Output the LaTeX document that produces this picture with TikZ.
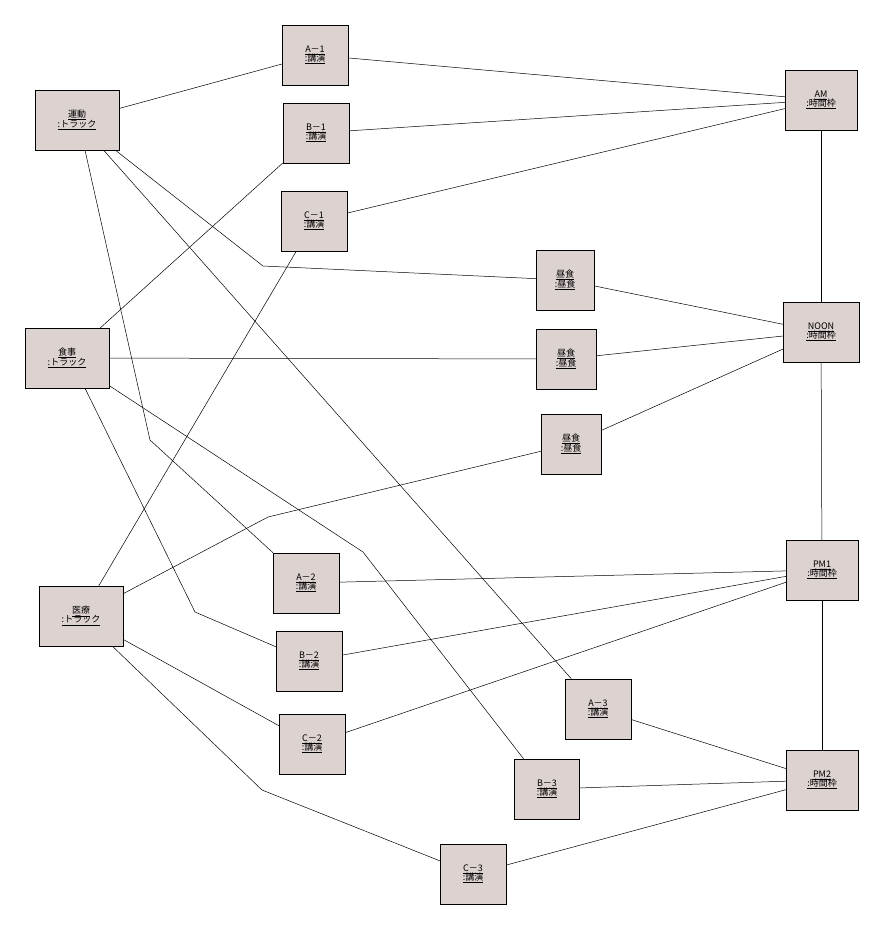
\documentclass[tikz,border=0pt]{standalone}
\usepackage{fontspec}
\setmainfont{Noto Sans CJK JP}
\begin{document}
\begin{tikzpicture}[x=1pt,y=-1pt,
 obj/.style={draw=black,fill={rgb,255:red,220;green,210;blue,208},minimum height=60pt,inner sep=0pt,align=center,font=\fontsize{9}{10}\selectfont},
 s/.style={obj,minimum width=66pt},
 m/.style={obj,minimum width=60pt},
 t/.style={obj,minimum width=72pt},
 w/.style={obj,minimum width=84pt},
 ln/.style={draw=black,line width=0.5pt}]
\useasboundingbox (0,0) rectangle (885,929);
\newcommand{\ul}[2]{\underline{#1}\\[-1pt]\underline{#2}}
\node[w] (und) at (77,120) {\ul{運動}{:トラック}};
\node[w] (sho) at (67,358) {\ul{食事}{:トラック}};
\node[w] (iry) at (81,616) {\ul{医療}{:トラック}};
\node[s] (a1) at (315,55) {\ul{A－1}{:講演}};
\node[s] (b1) at (316,133) {\ul{B－1}{:講演}};
\node[s] (c1) at (314,221) {\ul{C－1}{:講演}};
\node[obj,minimum width=58pt] (l1) at (565,280) {\ul{昼食}{:昼食}};
\node[m] (l2) at (566,359) {\ul{昼食}{:昼食}};
\node[m] (l3) at (571,444) {\ul{昼食}{:昼食}};
\node[s] (a2) at (306,583) {\ul{A－2}{:講演}};
\node[s] (b2) at (309,661) {\ul{B－2}{:講演}};
\node[s] (c2) at (312,744) {\ul{C－2}{:講演}};
\node[s] (a3) at (598,709) {\ul{A－3}{:講演}};
\node[obj,minimum width=65pt] (b3) at (547,789) {\ul{B－3}{:講演}};
\node[s] (c3) at (473,874) {\ul{C－3}{:講演}};
\node[t] (am) at (821,100) {\ul{AM}{:時間枠}};
\node[obj,minimum width=76pt] (noon) at (821,332) {\ul{NOON}{:時間枠}};
\node[t] (pm1) at (822,570) {\ul{PM1}{:時間枠}};
\node[t] (pm2) at (822,780) {\ul{PM2}{:時間枠}};
\coordinate (k1) at (263,266);
\coordinate (k2) at (150,440);
\coordinate (k3) at (195,612);
\coordinate (k4) at (363,552);
\coordinate (k5) at (268,517);
\coordinate (k6) at (262,790);
\draw[ln] (und) -- (a1);
\draw[ln] (und) -- (k1) -- (l1);
\draw[ln] (und.south) ++(8,0) -- (k2) -- (a2);
\draw[ln] (und) -- (a3);
\draw[ln] (sho) -- (b1);
\draw[ln] (sho) -- (l2);
\draw[ln] (sho.south) ++(18,0) -- (k3) -- (b2);
\draw[ln] (sho) -- (k4) -- (b3);
\draw[ln] (iry) -- (c1);
\draw[ln] (iry) -- (k5) -- (l3);
\draw[ln] (iry) -- (c2);
\draw[ln] (iry) -- (k6) -- (c3);
\draw[ln] (a1) -- (am); \draw[ln] (b1) -- (am); \draw[ln] (c1) -- (am);
\draw[ln] (l1) -- (noon); \draw[ln] (l2) -- (noon); \draw[ln] (l3) -- (noon);
\draw[ln] (a2) -- (pm1); \draw[ln] (b2) -- (pm1); \draw[ln] (c2) -- (pm1);
\draw[ln] (a3) -- (pm2); \draw[ln] (b3) -- (pm2); \draw[ln] (c3) -- (pm2);
\draw[ln] (am) -- (noon); \draw[ln] (noon) -- (pm1); \draw[ln] (pm1) -- (pm2);
\end{tikzpicture}
\end{document}
